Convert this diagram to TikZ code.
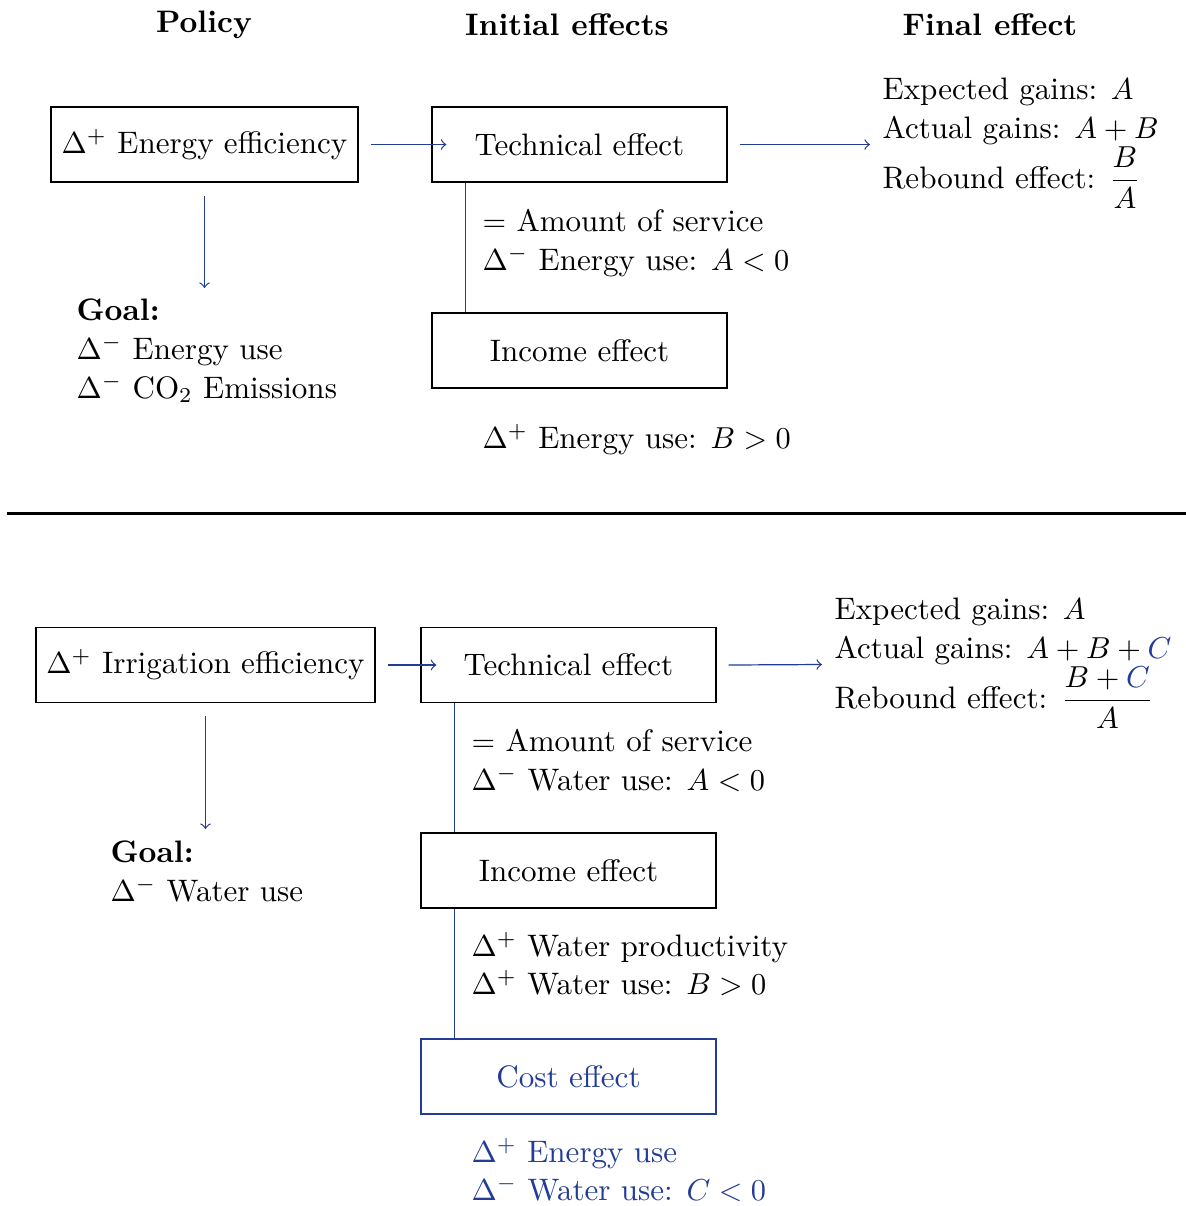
\documentclass[tikz,border=0pt]{standalone}
\usetikzlibrary{calc}
\definecolor{pblue}{RGB}{35,60,150}
\begin{document}
\fontsize{10.25}{12.3}\selectfont
\begin{tikzpicture}[x=0.33pt,y=-0.33pt,
  box/.style={draw, line width=0.4pt, rectangle, minimum height=24.75pt, inner sep=0pt, anchor=center},
  conn/.style={draw=pblue, line width=0.4pt},
  arr/.style={conn,->},
  lbl/.style={anchor=base west, inner sep=0pt},
  hdr/.style={anchor=base, inner sep=0pt, font=\bfseries}]
\useasboundingbox (0,0) rectangle (1186,1206);

% headers
\node[hdr] (h1) at (204,32) {Policy};
\node[hdr] (h2) at (567,35) {Initial effects};
\node[hdr] (h3) at (990,35) {Final effect};

% ---------- top panel ----------
\node[box, minimum width=101.3pt] (ee) at (204.5,144.5) {$\Delta^+$ Energy efficiency};
\node[box, minimum width=97.35pt] (te1) at (579.5,144.5) {Technical effect};
\node[box, minimum width=97.35pt] (ie1) at (579.5,350.5) {Income effect};

\coordinate (f1) at (870,144.5);
\coordinate (g1) at (204.5,288);
\draw[arr] ($(ee.east)+(12,0)$) -- ($(te1.west)+(15,0)$);
\draw[arr] ($(te1.east)+(12,0)$) -- (f1);
\draw[arr] ($(ee.south)+(0,13)$) -- (g1);
\draw[conn] ($(te1.south west)+(34,0)$) -- ($(ie1.north west)+(34,0)$);

\node[lbl] (t1a) at (482,231) {$=$ Amount of service};
\node[lbl] (t1b) at (482,270) {$\Delta^-$ Energy use: $A<0$};
\node[lbl] (t1c) at (482,448) {$\Delta^+$ Energy use: $B>0$};

\node[lbl] (g1a) at (76,320) {\textbf{Goal:}};
\node[lbl] (g1b) at (76,359) {$\Delta^-$ Energy use};
\node[lbl] (g1c) at (76,398) {$\Delta^-$ CO$_2$ Emissions};

\node[lbl] (fe1) at (882,99) {Expected gains: $A$};
\node[lbl] (fa1) at (882,138) {Actual gains: $A+B$};
\node[lbl] (fr1) at (882,188) {Rebound effect: $\displaystyle\frac{B}{A}$};

% separator
\draw[line width=1pt] (7,513) -- (1186,513);

% ---------- bottom panel ----------
\node[box, minimum width=111.9pt] (ie) at (205.5,665) {$\Delta^+$ Irrigation efficiency};
\node[box, minimum width=97.35pt] (te2) at (568.5,665) {Technical effect};
\node[box, minimum width=97.35pt] (ie2) at (568.5,870.5) {Income effect};
\node[box, minimum width=97.35pt, draw=pblue, text=pblue] (ce2) at (568.5,1076.5) {Cost effect};

\coordinate (f2) at (822,664.5);
\coordinate (g2) at (205.5,829);
\draw[arr] ($(ie.east)+(12,0)$) -- ($(te2.west)+(16,0)$);
\draw[arr] ($(te2.east)+(12,0)$) -- (f2);
\draw[arr] ($(ie.south)+(0,13)$) -- (g2);
\draw[conn] ($(te2.south west)+(34,0)$) -- ($(ie2.north west)+(34,0)$);
\draw[conn] ($(ie2.south west)+(34,0)$) -- ($(ce2.north west)+(34,0)$);

\node[lbl] (t2a) at (471,751) {$=$ Amount of service};
\node[lbl] (t2b) at (471,790) {$\Delta^-$ Water use: $A<0$};
\node[lbl] (t2c) at (471,956) {$\Delta^+$ Water productivity};
\node[lbl] (t2d) at (471,994) {$\Delta^+$ Water use: $B>0$};
\node[lbl, text=pblue] (t2e) at (471,1162) {$\Delta^+$ Energy use};
\node[lbl, text=pblue] (t2f) at (471,1200) {$\Delta^-$ Water use: $C<0$};

\node[lbl] (g2a) at (110,862) {\textbf{Goal:}};
\node[lbl] (g2b) at (110,901) {$\Delta^-$ Water use};

\node[lbl] (fe2) at (834,619) {Expected gains: $A$};
\node[lbl] (fa2) at (834,658) {Actual gains: $A+B+{\color{pblue}C}$};
\node[lbl] (fr2) at (834,708) {Rebound effect: $\displaystyle\frac{B+{\color{pblue}C}}{A}$};
\end{tikzpicture}
\end{document}
